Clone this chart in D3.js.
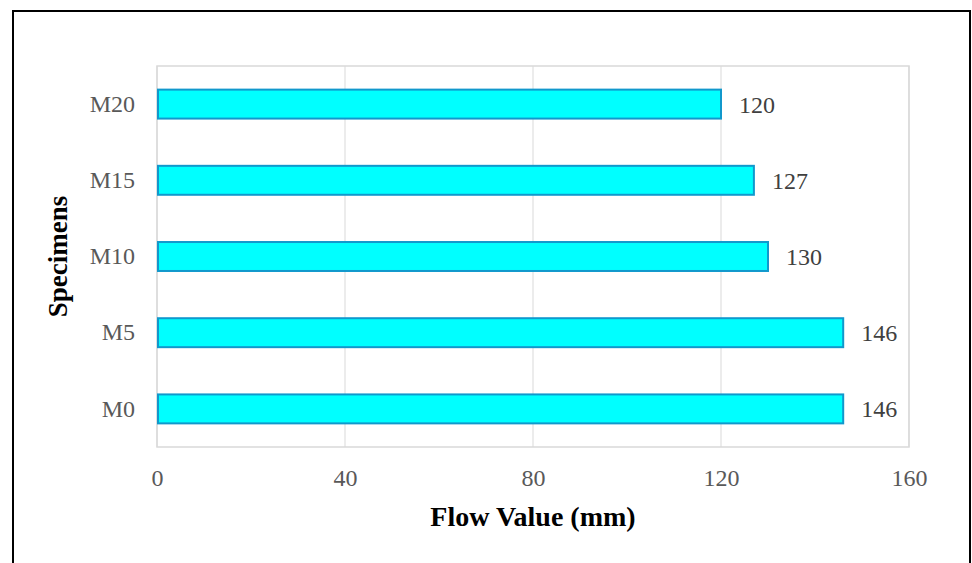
<!DOCTYPE html>
<html><head><meta charset="utf-8">
<script src="https://cdn.jsdelivr.net/npm/d3@7"></script>
<style>body{margin:0;background:#fff}svg{display:block}</style>
</head><body>
<script>
const categories = ["M0","M5","M10","M15","M20"];
const values = [146,146,130,127,120];
const xTicks = [0,40,80,120,160];
const xTitle = "Flow Value (mm)";
const yTitle = "Specimens";

const W = 972, H = 563;
const m = {left:157, right:972-909, top:66, bottom:563-447};
const svg = d3.select("body").append("svg").attr("width",W).attr("height",H);
svg.append("rect").attr("width",W).attr("height",H).attr("fill","#fff");
svg.append("rect").attr("x",13).attr("y",11).attr("width",957).attr("height",570)
  .attr("fill","none").attr("stroke","#000").attr("stroke-width",2);

const x = d3.scaleLinear().domain([0,160]).range([m.left, W-m.right]);
const y = d3.scaleBand().domain(categories.slice().reverse()).range([m.top, H-m.bottom]).paddingInner(0.62).paddingOuter(0.31);

const font = "'Liberation Serif','Times New Roman',serif";
// grid
svg.append("g").selectAll("line").data(xTicks).join("line")
  .attr("x1",d=>x(d)).attr("x2",d=>x(d)).attr("y1",m.top).attr("y2",H-m.bottom)
  .attr("stroke","#d9d9d9").attr("stroke-width",1);
// plot border
svg.append("rect").attr("x",m.left).attr("y",m.top).attr("width",x(160)-m.left).attr("height",H-m.bottom-m.top)
  .attr("fill","none").attr("stroke","#d9d9d9").attr("stroke-width",1.5);

const data = categories.map((c,i)=>({c, v:values[i]}));
svg.append("g").selectAll("rect").data(data).join("rect")
  .attr("x",x(0)+1).attr("y",d=>y(d.c)).attr("width",d=>x(d.v)-x(0)-1).attr("height",y.bandwidth())
  .attr("fill","#00ffff").attr("stroke","#1198cc").attr("stroke-width",2);

svg.append("g").selectAll("text").data(data).join("text")
  .attr("x",d=>x(d.v)+18).attr("y",d=>y(d.c)+y.bandwidth()/2).attr("dy","0.35em")
  .attr("font-family",font).attr("font-size",24).attr("fill","#404040").text(d=>d.v);

// x axis labels
const xa = d3.axisBottom(x).tickValues(xTicks).tickSize(0);
const gx = svg.append("g").attr("transform",`translate(0,${H-m.bottom})`).call(xa);
gx.select(".domain").remove();
gx.selectAll("text").attr("y",39).attr("dy",null).attr("font-family",font).attr("font-size",24).attr("fill","#595959");

const ya = d3.axisLeft(y).tickSize(0).tickPadding(22);
const gy = svg.append("g").attr("transform",`translate(${m.left},0)`).call(ya);
gy.select(".domain").remove();
gy.selectAll("text").attr("font-family",font).attr("font-size",24).attr("fill","#595959");

svg.append("text").attr("x",(x(0)+x(160))/2).attr("y",526).attr("text-anchor","middle")
  .attr("font-family",font).attr("font-size",28).attr("font-weight","bold").attr("fill","#000").text(xTitle);
svg.append("text").attr("transform",`translate(67,${(m.top+H-m.bottom)/2}) rotate(-90)`).attr("text-anchor","middle")
  .attr("font-family",font).attr("font-size",27).attr("font-weight","bold").attr("fill","#000").text(yTitle);
</script>
</body></html>
